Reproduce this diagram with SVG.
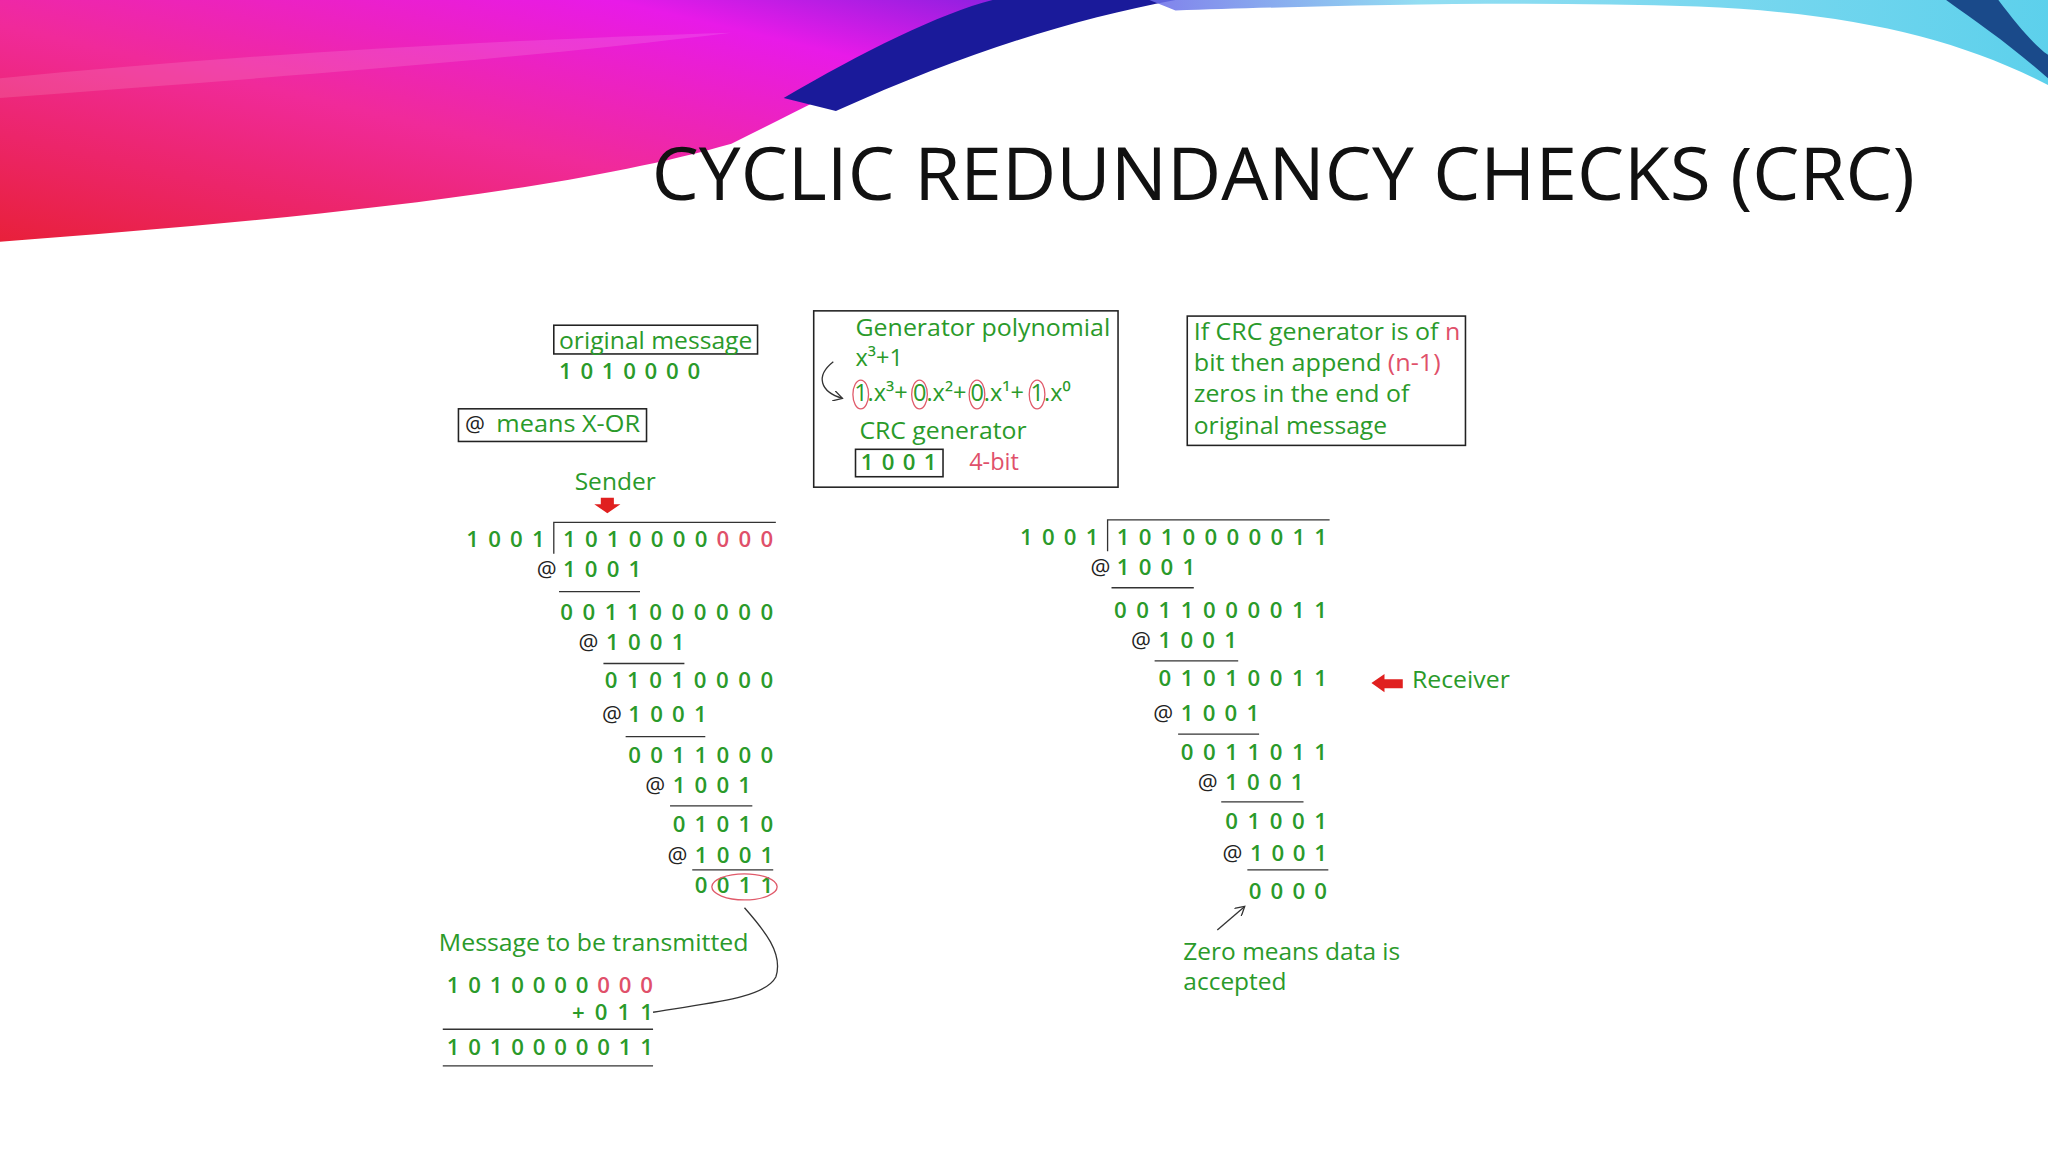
<svg xmlns="http://www.w3.org/2000/svg" width="2048" height="1152" viewBox="0 0 2048 1152">
<defs>
<linearGradient id="pink" x1="0" y1="1" x2="1" y2="0">
<stop offset="0" stop-color="#e8203a"/>
<stop offset="0.45" stop-color="#f02a9a"/>
<stop offset="0.8" stop-color="#e81ae8"/>
<stop offset="1" stop-color="#8a20e0"/>
</linearGradient>
<linearGradient id="cyan" x1="0" y1="0" x2="1" y2="0">
<stop offset="0" stop-color="#6a6ae8"/>
<stop offset="0.3" stop-color="#80d8f0"/>
<stop offset="1" stop-color="#40c8e8"/>
</linearGradient>
<marker id="ah" markerWidth="8" markerHeight="8" refX="7" refY="4" orient="auto" markerUnits="userSpaceOnUse">
<path d="M0,0 L7,4 L0,8" fill="none" stroke="#333" stroke-width="1"/>
</marker>
<style>
.g{fill:#2a9a2a;font-family:"Open Sans","Liberation Sans",sans-serif;font-size:18px}
.d{fill:#2a9a2a;font-family:"Open Sans","Liberation Sans",sans-serif;font-size:17px;font-weight:600}
.r{fill:#e0506a}
.at{fill:#222;font-family:"Open Sans","Liberation Sans",sans-serif;font-size:17px}
.bx{fill:none;stroke:#222;stroke-width:1.2}
.ln{stroke:#333;stroke-width:1}
.el{fill:none;stroke:#e05a6a;stroke-width:1}
</style>
</defs>
<rect width="2048" height="1152" fill="#fff"/>
<g transform="scale(1.30612)">
<g id="background">
<path d="M0,0 L780,0 C700,40 640,70 560,110 C420,150 200,170 0,185 Z" fill="url(#pink)"/>
<path d="M0,60 C200,40 400,30 560,25 C400,45 200,60 0,75 Z" fill="#ffffff" opacity="0.12"/>
<path d="M600,75 C660,40 720,10 760,0 L900,0 C820,15 740,40 640,85 Z" fill="#1a1a9a"/>
<path d="M880,0 L1568,0 L1568,65 C1500,30 1420,10 1300,5 C1150,0 1000,5 900,8 Z" fill="url(#cyan)" opacity="0.85"/>
<path d="M1490,0 L1530,0 C1545,20 1558,35 1568,42 L1568,60 C1540,35 1515,18 1490,0 Z" fill="#1a4a8a"/>
<text x="499" y="153" font-family="'Open Sans','Liberation Sans',sans-serif" font-size="56" fill="#111" textLength="967" lengthAdjust="spacingAndGlyphs">CYCLIC REDUNDANCY CHECKS (CRC)</text>
</g>

<g id="original-message">
<rect class="bx" x="424" y="249" width="156" height="22"/>
<text class="g" x="428" y="267" textLength="148" lengthAdjust="spacingAndGlyphs">original message</text>
<text class="d" x="428" y="290" textLength="108" lengthAdjust="spacing">1010000</text>
</g>
<g id="xor-note">
<rect class="bx" x="351" y="313" width="144" height="25"/>
<text class="at" x="356" y="331">@</text>
<text class="g" x="380" y="331" textLength="110" lengthAdjust="spacingAndGlyphs">means X-OR</text>
</g>
<g id="sender">
<text class="g" x="440" y="375" textLength="62" lengthAdjust="spacingAndGlyphs">Sender</text>
<path d="M460,381 L470,381 L470,386 L475,386 L465,393 L455,386 L460,386 Z" fill="#e0201f"/>
</g>

<g id="generator-box">
<rect class="bx" x="623" y="238" width="233" height="135"/>
<text class="g" x="655" y="257" textLength="195" lengthAdjust="spacingAndGlyphs">Generator polynomial</text>
<text class="g" x="655" y="280">x³+1</text>
<text class="g" y="307"><tspan x="654">1.x³+</tspan><tspan x="699">0.x²+</tspan><tspan x="743">0.x¹+</tspan><tspan x="789">1.x⁰</tspan></text>
<ellipse class="el" cx="659" cy="302" rx="6" ry="11"/>
<ellipse class="el" cx="704" cy="302" rx="6" ry="11"/>
<ellipse class="el" cx="748" cy="302" rx="6" ry="11"/>
<ellipse class="el" cx="794" cy="302" rx="6" ry="11"/>
<path d="M638,277 C624,288 628,300 645,305" fill="none" stroke="#333" stroke-width="1" marker-end="url(#ah)"/>
<text class="g" x="658" y="336" textLength="128" lengthAdjust="spacingAndGlyphs">CRC generator</text>
<rect class="bx" x="655" y="344" width="67" height="21"/>
<text class="d" x="659" y="360" textLength="58" lengthAdjust="spacing">1001</text>
<text class="g r" x="742" y="360">4-bit</text>
</g>

<g id="rule-box">
<rect class="bx" x="909" y="242" width="213" height="99"/>
<text class="g" x="914" y="260" textLength="204" lengthAdjust="spacingAndGlyphs">If CRC generator is of <tspan class="r">n</tspan></text>
<text class="g" x="914" y="284" textLength="189" lengthAdjust="spacingAndGlyphs">bit then append <tspan class="r">(n-1)</tspan></text>
<text class="g" x="914" y="308" textLength="165" lengthAdjust="spacingAndGlyphs">zeros in the end of</text>
<text class="g" x="914" y="332" textLength="148" lengthAdjust="spacingAndGlyphs">original message</text>
</g>

<g id="sender-division">
<text class="d" x="357" y="419" textLength="60" lengthAdjust="spacing">1001</text>
<path class="ln" d="M424,424 L424,400 L594,400" fill="none"/>
<text class="d" x="431" y="419" textLength="161" lengthAdjust="spacing">1010000<tspan class="r">000</tspan></text>
<text class="at" x="411" y="442">@</text><text class="d" x="431" y="442" textLength="60" lengthAdjust="spacing">1001</text>
<line class="ln" x1="428" y1="453" x2="490" y2="453"/>
<text class="d" x="429" y="475" textLength="163" lengthAdjust="spacing">0011000000</text>
<text class="at" x="443" y="498">@</text><text class="d" x="464" y="498" textLength="60" lengthAdjust="spacing">1001</text>
<line class="ln" x1="462" y1="508" x2="524" y2="508"/>
<text class="d" x="463" y="527" textLength="129" lengthAdjust="spacing">01010000</text>
<text class="at" x="461" y="553">@</text><text class="d" x="481" y="553" textLength="60" lengthAdjust="spacing">1001</text>
<line class="ln" x1="479" y1="564" x2="540" y2="564"/>
<text class="d" x="481" y="584" textLength="111" lengthAdjust="spacing">0011000</text>
<text class="at" x="494" y="607">@</text><text class="d" x="515" y="607" textLength="60" lengthAdjust="spacing">1001</text>
<line class="ln" x1="513" y1="617" x2="576" y2="617"/>
<text class="d" x="515" y="637" textLength="77" lengthAdjust="spacing">01010</text>
<text class="at" x="511" y="661">@</text><text class="d" x="532" y="661" textLength="60" lengthAdjust="spacing">1001</text>
<line class="ln" x1="530" y1="666" x2="592" y2="666"/>
<text class="d" x="532" y="684" textLength="60" lengthAdjust="spacing">0011</text>
<ellipse cx="570" cy="679" rx="25" ry="10" fill="none" stroke="#e05a6a" stroke-width="1"/>
</g>

<g id="transmitted">
<text class="g" x="336" y="728" textLength="237" lengthAdjust="spacingAndGlyphs">Message to be transmitted</text>
<text class="d" x="342" y="760" textLength="158" lengthAdjust="spacing">1010000<tspan class="r">000</tspan></text>
<text class="d" x="438" y="781" textLength="62" lengthAdjust="spacing">+011</text>
<line class="ln" x1="339" y1="788" x2="500" y2="788"/>
<text class="d" x="342" y="808" textLength="158" lengthAdjust="spacing">1010000011</text>
<line class="ln" x1="339" y1="816" x2="500" y2="816"/>
</g>

<g id="receiver-division">
<text class="d" x="781" y="417" textLength="60" lengthAdjust="spacing">1001</text>
<path class="ln" d="M848,422 L848,398 L1018,398" fill="none"/>
<text class="d" x="855" y="417" textLength="161" lengthAdjust="spacing">1010000011</text>
<text class="at" x="835" y="440">@</text><text class="d" x="855" y="440" textLength="60" lengthAdjust="spacing">1001</text>
<line class="ln" x1="851" y1="450" x2="914" y2="450"/>
<text class="d" x="853" y="473" textLength="163" lengthAdjust="spacing">0011000011</text>
<text class="at" x="866" y="496">@</text><text class="d" x="887" y="496" textLength="60" lengthAdjust="spacing">1001</text>
<line class="ln" x1="884" y1="506" x2="948" y2="506"/>
<text class="d" x="887" y="525" textLength="129" lengthAdjust="spacing">01010011</text>
<text class="at" x="883" y="552">@</text><text class="d" x="904" y="552" textLength="60" lengthAdjust="spacing">1001</text>
<line class="ln" x1="902" y1="562" x2="964" y2="562"/>
<text class="d" x="904" y="582" textLength="112" lengthAdjust="spacing">0011011</text>
<text class="at" x="917" y="605">@</text><text class="d" x="938" y="605" textLength="60" lengthAdjust="spacing">1001</text>
<line class="ln" x1="935" y1="614" x2="998" y2="614"/>
<text class="d" x="938" y="635" textLength="78" lengthAdjust="spacing">01001</text>
<text class="at" x="936" y="659">@</text><text class="d" x="957" y="659" textLength="59" lengthAdjust="spacing">1001</text>
<line class="ln" x1="955" y1="666" x2="1017" y2="666"/>
<text class="d" x="956" y="688" textLength="60" lengthAdjust="spacing">0000</text>
</g>

<g id="receiver">
<path d="M1050,523 L1060,516 L1060,520 L1074,520 L1074,527 L1060,527 L1060,530 Z" fill="#e0201f"/>
<text class="g" x="1081" y="527" textLength="75" lengthAdjust="spacingAndGlyphs">Receiver</text>
</g>
<g id="zero-note">
<text class="g" x="906" y="735" textLength="166" lengthAdjust="spacingAndGlyphs">Zero means data is</text>
<text class="g" x="906" y="758" textLength="79" lengthAdjust="spacingAndGlyphs">accepted</text>
</g>

<g id="connectors">
<path d="M570,695 C585,712 600,730 594,748 C585,765 540,768 500,775" fill="none" stroke="#333" stroke-width="1"/>
<line x1="932" y1="712" x2="953" y2="694" stroke="#333" stroke-width="1" marker-end="url(#ah)"/>
</g>
</g>
</svg>
